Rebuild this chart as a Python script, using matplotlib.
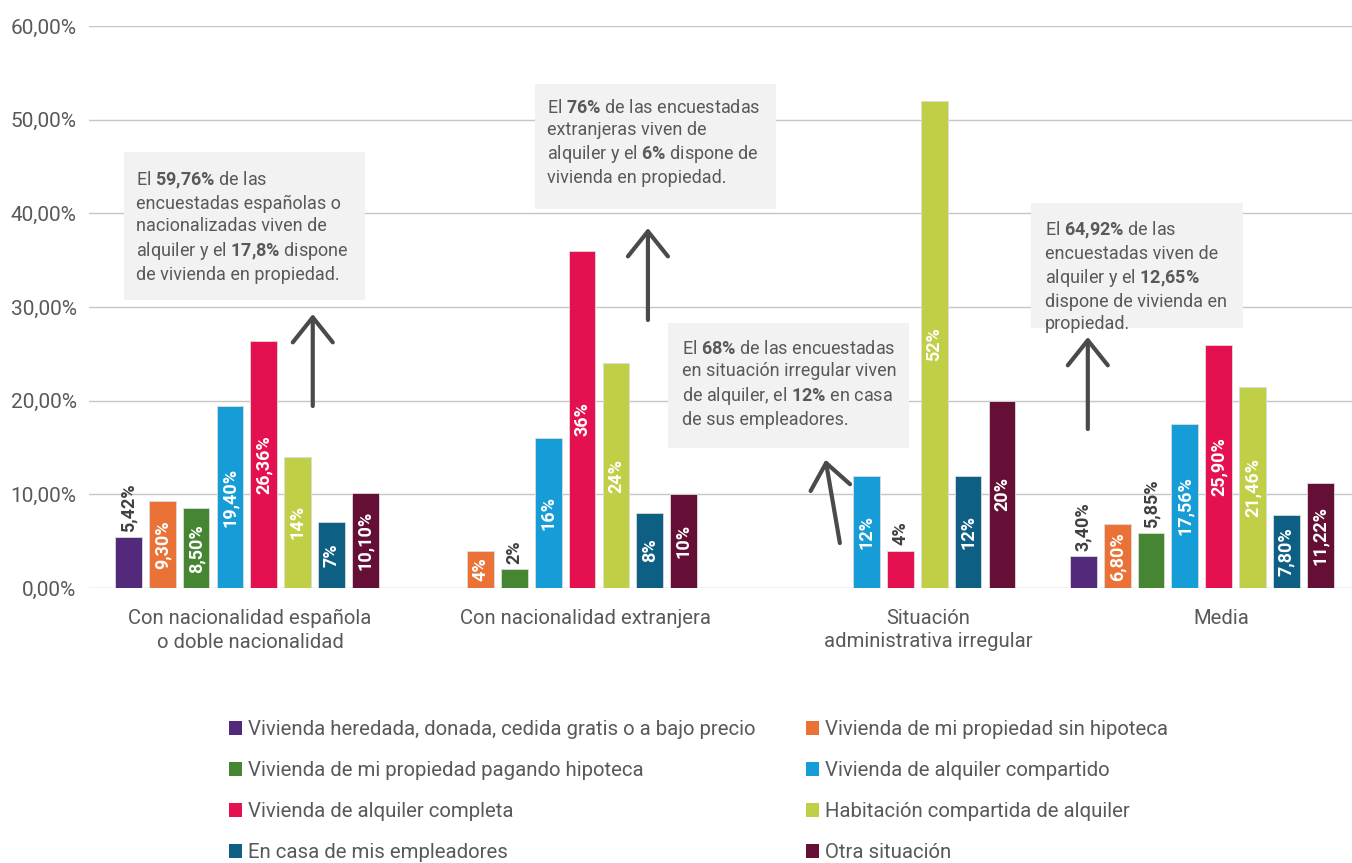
import numpy as np
import matplotlib
matplotlib.use("Agg")
import matplotlib.pyplot as plt
from matplotlib.patches import Patch, Rectangle
from matplotlib.ticker import FuncFormatter

plt.rcParams['font.family'] = ['Roboto', 'DejaVu Sans']
plt.rcParams['mathtext.fontset'] = 'custom'
plt.rcParams['mathtext.rm'] = 'Roboto'
plt.rcParams['mathtext.bf'] = 'Roboto:bold'

TEXT = "#595959"
DARK = "#404040"

# --- data ---
groups = ["Con nacionalidad española\no doble nacionalidad",
          "Con nacionalidad extranjera",
          "Situación\nadministrativa irregular",
          "Media"]

series = ["Vivienda heredada, donada, cedida gratis o a bajo precio",
          "Vivienda de mi propiedad sin hipoteca",
          "Vivienda de mi propiedad pagando hipoteca",
          "Vivienda de alquiler compartido",
          "Vivienda de alquiler completa",
          "Habitación compartida de alquiler",
          "En casa de mis empleadores",
          "Otra situación"]

colors = ["#532a7b", "#eb7236", "#468633", "#169dd8",
          "#e51050", "#c0cf46", "#0e5f84", "#650f37"]

heredada = [5.42, np.nan, np.nan, 3.40]
sin_hipoteca = [9.30, 4, np.nan, 6.80]
pagando_hipoteca = [8.50, 2, np.nan, 5.85]
alquiler_compartido = [19.40, 16, 12, 17.56]
alquiler_completa = [26.36, 36, 4, 25.90]
habitacion = [14, 24, 52, 21.46]
empleadores = [7, 8, 12, 7.80]
otra = [10.10, 10, 20, 11.22]

values = [heredada, sin_hipoteca, pagando_hipoteca, alquiler_compartido,
          alquiler_completa, habitacion, empleadores, otra]

# labels written above the bar instead of inside (group, series)
outside = {(0, 0), (1, 2), (2, 4), (3, 0), (3, 2)}

notes = [
    "El $\\mathbf{59{,}76\\%}$ de las\nencuestadas españolas o\nnacionalizadas viven de\n"
    "alquiler y el $\\mathbf{17{,}8\\%}$ dispone\nde vivienda en propiedad.",
    "El $\\mathbf{76\\%}$ de las encuestadas\nextranjeras viven de\n"
    "alquiler y el $\\mathbf{6\\%}$ dispone de\nvivienda en propiedad.",
    "El $\\mathbf{68\\%}$ de las encuestadas\nen situación irregular viven\n"
    "de alquiler, el $\\mathbf{12\\%}$ en casa\nde sus empleadores.",
    "El $\\mathbf{64{,}92\\%}$ de las\nencuestadas viven de\n"
    "alquiler y el $\\mathbf{12{,}65\\%}$\ndispone de vivienda en\npropiedad.",
]


def fmt(v):
    if float(v).is_integer():
        return "%d%%" % v
    return ("%.2f%%" % v).replace(".", ",")


W, H = 1352, 863
fig = plt.figure(figsize=(W / 100, H / 100), dpi=100)
ax = fig.add_axes([89 / W, 1 - 588 / H, (W - 89) / W, (588 - 26) / H])

x = np.arange(len(groups))
step = 0.1063
width = 0.084

for i, (vals, col) in enumerate(zip(values, colors)):
    pos = x + (i - 3.5) * step
    ax.bar(pos, vals, width, color=col, edgecolor="#dcdcdc", linewidth=0.6,
           zorder=3)
    for g, v in enumerate(vals):
        if np.isnan(v):
            continue
        if (g, i) in outside:
            ax.text(pos[g], v + 0.6, fmt(v), rotation=90, ha="center",
                    va="bottom", color=DARK, fontsize=13, fontweight="bold",
                    zorder=4)
        else:
            ax.text(pos[g], v / 2, fmt(v), rotation=90, ha="center",
                    va="center", color="white", fontsize=13,
                    fontweight="bold", zorder=4)

ax.set_ylim(0, 60)
ax.set_xlim(-0.496, 3.472)
ax.set_yticks(np.arange(0, 61, 10))
ax.yaxis.set_major_formatter(FuncFormatter(lambda v, p: ("%.2f%%" % v).replace(".", ",")))
ax.set_xticks([0.01, 1.065, 2.14, 3.06])
ax.set_xticklabels(groups, linespacing=1.3)
ax.tick_params(axis="both", length=0, labelcolor=TEXT)
ax.tick_params(axis="x", pad=15, labelsize=14.6)
ax.tick_params(axis="y", pad=9, labelsize=15)
ax.grid(axis="y", color="#c6c6c6", linewidth=1.0, zorder=0)
ax.set_axisbelow(True)
for s in ax.spines.values():
    s.set_visible(False)

# note boxes (x0, x1, y0, y1) and text anchor (x, y)
boxes = [(-0.386, 0.371, 30.75, 46.55), (0.905, 1.662, 40.46, 53.81),
         (1.323, 2.080, 14.95, 28.29), (2.463, 3.129, 27.76, 41.10)]
text_at = [(-0.349, 44.6), (0.943, 52.2), (1.367, 26.45), (2.507, 39.3)]
for (x0, x1, y0, y1), (tx, ty), note in zip(boxes, text_at, notes):
    ax.add_patch(Rectangle((x0, y0), x1 - x0, y1 - y0, facecolor="#f2f2f2",
                           edgecolor="none", zorder=5))
    ax.text(tx, ty, note, ha="left", va="top", fontsize=13, color=TEXT,
            linespacing=1.28, zorder=6)

# arrows (tail -> tip)
arrows = [((0.207, 19.43), (0.207, 29.25)),
          ((1.260, 28.61), (1.260, 38.43)),
          ((1.863, 4.80), (1.818, 13.70)),
          ((2.642, 16.97), (2.642, 26.80))]
for tail, tip in arrows:
    ax.annotate("", xy=tip, xytext=tail,
                arrowprops=dict(arrowstyle="->,head_length=0.9,head_width=0.72",
                                mutation_scale=20, lw=3, color="#4a4a4a",
                                shrinkA=0, shrinkB=0),
                zorder=6)

handles = [Patch(facecolor=c, edgecolor="none") for c in colors]
for col, xl in enumerate([229, 806]):
    idx = [col, col + 2, col + 4, col + 6]
    fig.legend([handles[k] for k in idx], [series[k] for k in idx],
               loc="upper left", bbox_to_anchor=(xl / W, 1 - 720 / H),
               frameon=False, fontsize=14.7, labelcolor=TEXT,
               handlelength=0.65, handleheight=0.7, handletextpad=0.3,
               labelspacing=1.08, borderpad=0, borderaxespad=0)

fig.savefig("out.png", dpi=100)
